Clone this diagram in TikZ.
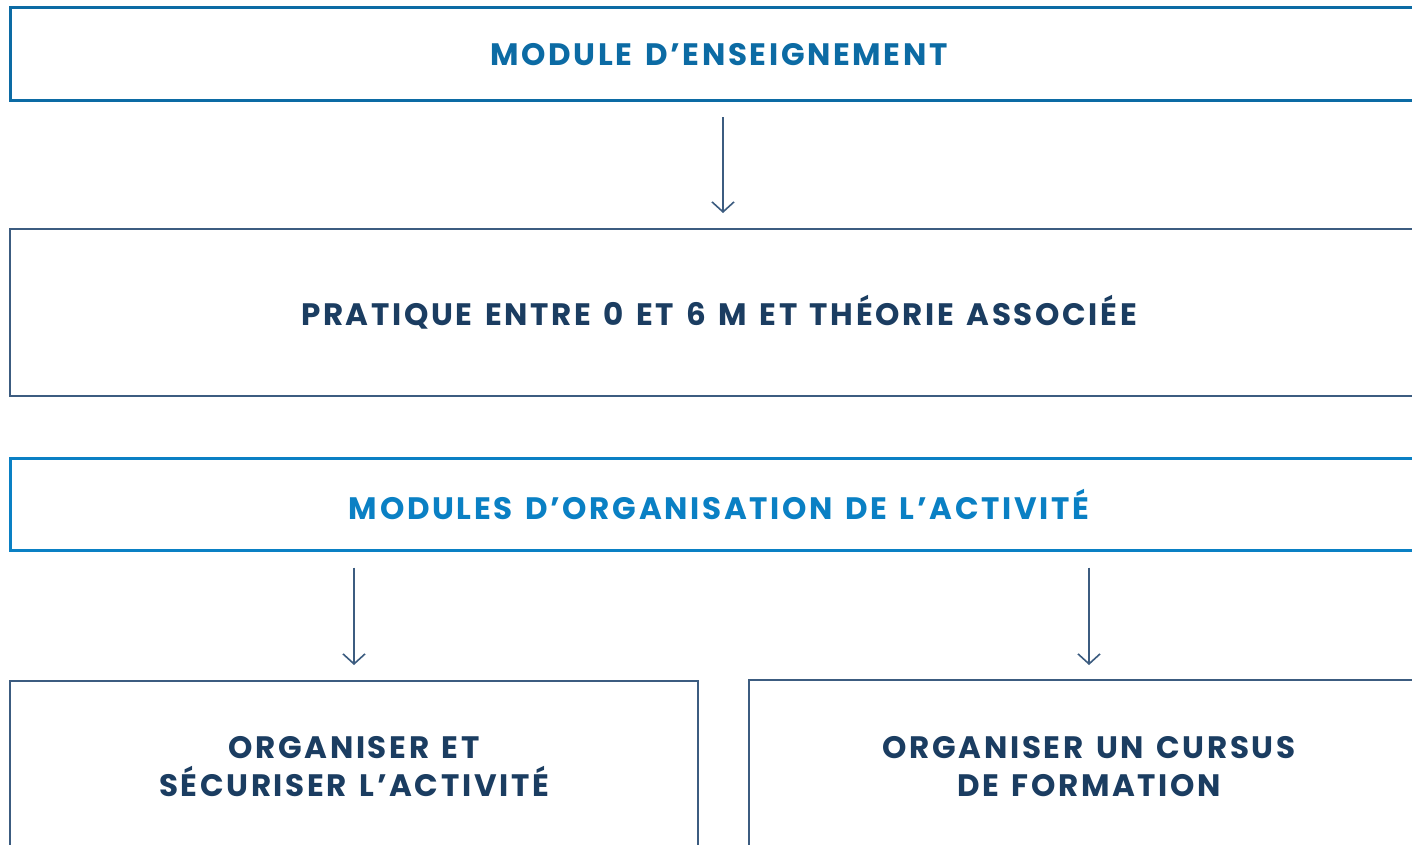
\documentclass[tikz,border=0pt]{standalone}
\usepackage{fontspec}
\setmainfont{Poppins}[LetterSpace=8.6,WordSpace=1.35]
\usetikzlibrary{arrows.meta}
\definecolor{topblue}{HTML}{0C6BA4}
\definecolor{midblue}{HTML}{0A80C4}
\definecolor{slate}{HTML}{3C5C80}
\definecolor{navy}{HTML}{1B3D61}
\tikzset{
  x=1pt,y=1pt,
  box/.style={draw, rectangle, fill=white, inner sep=0pt, align=center,
    font=\fontsize{31}{38}\selectfont\bfseries},
  headbox/.style={box, line width=3pt},
  plainbox/.style={box, draw=slate, line width=2pt, text=navy},
  conn/.style={draw=slate, line width=1.6pt, -{Straight Barb[length=10pt,width=22pt,line width=1.6pt]}},
}
\begin{document}
\begin{tikzpicture}
\useasboundingbox (0,0) rectangle (1412,-845);
\clip (0,0) rectangle (1412,-845);
\fill[white] (0,0) rectangle (1412,-845);
\node[headbox, draw=topblue, text=topblue, minimum width=1418pt, minimum height=93pt] (m1) at (719,-54.5) {MODULE D’ENSEIGNEMENT};
\node[plainbox, minimum width=1418pt, minimum height=167pt] (m2) at (719,-312.5) {PRATIQUE ENTRE 0 ET 6 M ET THÉORIE ASSOCIÉE};
\node[headbox, draw=midblue, text=midblue, minimum width=1418pt, minimum height=92pt] (m3) at (719,-504) {MODULES D’ORGANISATION DE L’ACTIVITÉ};
\node[plainbox, minimum width=688pt, minimum height=172pt] (m4) at (354,-767) {ORGANISER ET\\SÉCURISER L’ACTIVITÉ};
\node[plainbox, minimum width=680pt, minimum height=174pt] (m5) at (1089,-767) {ORGANISER UN CURSUS\\DE FORMATION};
\coordinate (a1) at (723,0);
\draw[conn, shorten <=15pt, shorten >=15pt] (m1.south -| a1) -- (m2.north -| a1);
\draw[conn, shorten <=16pt, shorten >=15pt] (m3.south -| m4) -- (m4.north);
\draw[conn, shorten <=16pt, shorten >=14pt] (m3.south -| m5) -- (m5.north);
\end{tikzpicture}
\end{document}
